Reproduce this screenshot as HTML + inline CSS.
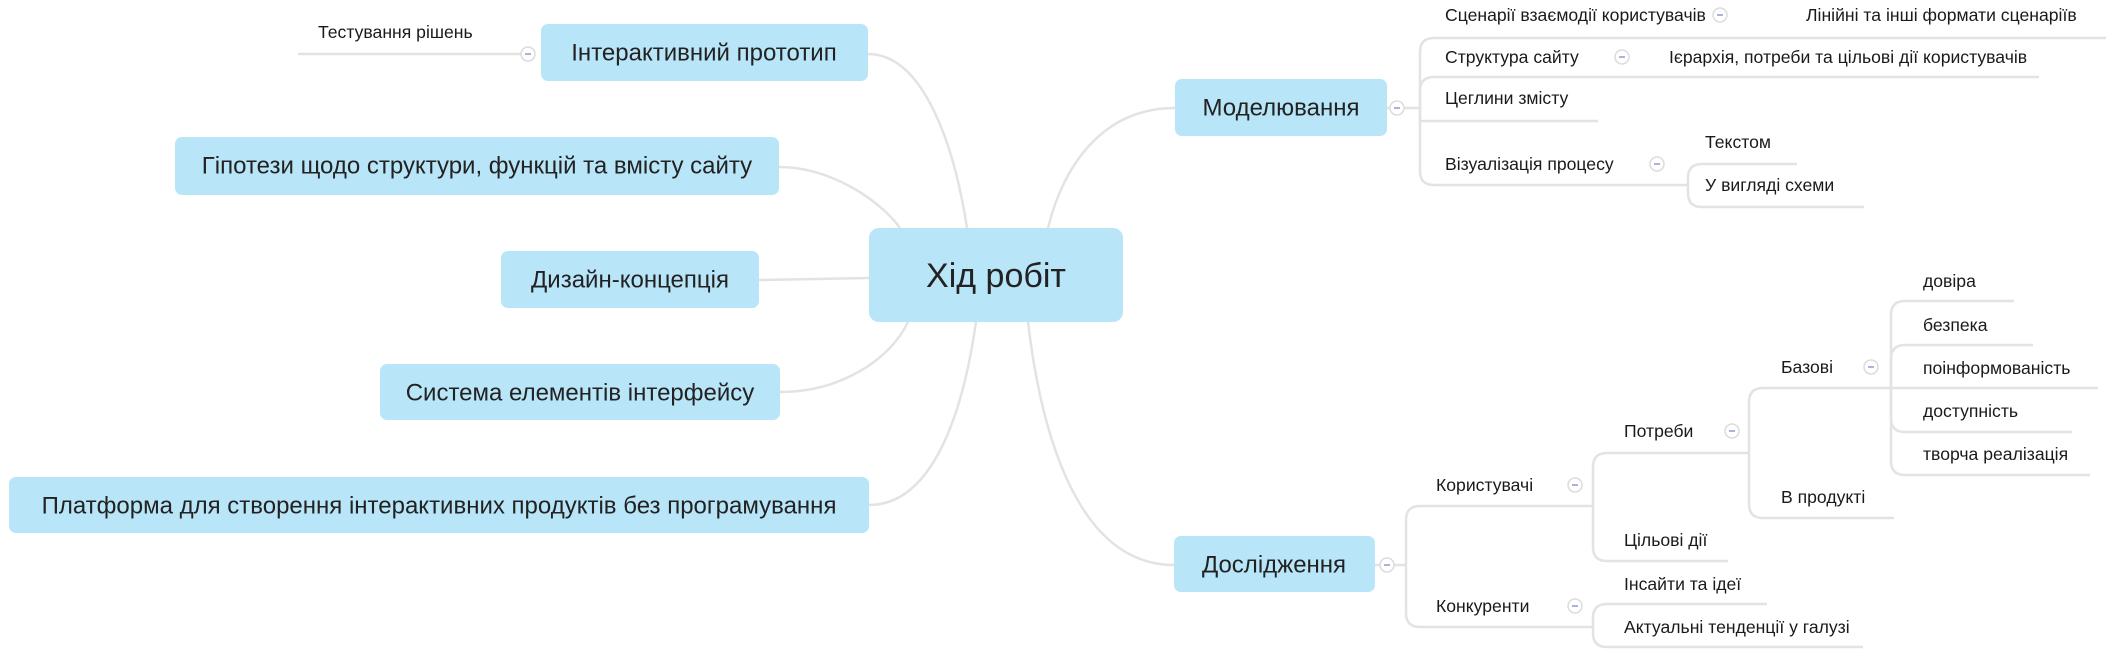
<!DOCTYPE html>
<html><head><meta charset="utf-8"><style>
html,body{margin:0;padding:0;background:#fff;}
svg{display:block;}
text{font-family:"Liberation Sans","Noto Sans CJK SC",sans-serif;fill:#1a1a1a;}
.l{font-size:17.6px;dominant-baseline:central;}
.n{font-size:24px;dominant-baseline:central;text-anchor:middle;fill:#222;}
.c{fill:none;stroke:#e3e3e3;stroke-width:2.5;}
.b{fill:#b8e5f8;}
.o circle{fill:#fff;stroke:#dcdcdc;stroke-width:1.5;}
.o line{stroke:#8a9bd0;stroke-width:1.5;}
</style></head><body>
<svg width="2106" height="660" viewBox="0 0 2106 660">
<path class="c" d="M868,54 C925,54 955,150 967,228"/>
<path class="c" d="M779,167 C830,167 880,200 900,228"/>
<path class="c" d="M759,280 L869,278"/>
<path class="c" d="M780,392 C840,392 890,360 908,322"/>
<path class="c" d="M869,505 C930,505 962,420 976,322"/>
<path class="c" d="M1175,108 C1100,108 1062,170 1048,228"/>
<path class="c" d="M1174,565 C1080,565 1042,440 1028,322"/>

<path class="c" d="M298,54 L521,54"/>
<text class="l" x="318" y="32">Тестування рішень</text>

<path class="c" d="M1387,108 L1420,108"/>
<path class="c" d="M1420,108 L1420,52 Q1420,38 1434,38 L2106,38"/>
<path class="c" d="M1420,108 L1420,91 Q1420,77 1434,77 L2039,77"/>
<path class="c" d="M1420,108 L1420,121 Q1420,121 1430,121 L1598,121"/>
<path class="c" d="M1420,108 L1420,171 Q1420,185 1434,185 L1672,185"/>
<path class="c" d="M1672,185 L1688,185"/>
<path class="c" d="M1688,185 L1688,178 Q1688,164 1702,164 L1797,164"/>
<path class="c" d="M1688,185 L1688,193 Q1688,207 1702,207 L1864,207"/>
<text class="l" x="1445" y="15">Сценарії взаємодії користувачів</text>
<text class="l" x="1806" y="15">Лінійні та інші формати сценаріїв</text>
<text class="l" x="1445" y="57">Структура сайту</text>
<text class="l" x="1669" y="57">Ієрархія, потреби та цільові дії користувачів</text>
<text class="l" x="1445" y="98">Цеглини змісту</text>
<text class="l" x="1445" y="164">Візуалізація процесу</text>
<text class="l" x="1705" y="142">Текстом</text>
<text class="l" x="1705" y="185">У вигляді схеми</text>

<path class="c" d="M1375,565 L1406,565"/>
<path class="c" d="M1406,565 L1406,520 Q1406,506 1420,506 L1575,506 L1593,506"/>
<path class="c" d="M1406,565 L1406,613 Q1406,627 1420,627 L1593,627"/>
<path class="c" d="M1593,506 L1593,467 Q1593,453 1607,453 L1749,453"/>
<path class="c" d="M1593,506 L1593,547 Q1593,561 1607,561 L1728,561"/>
<path class="c" d="M1749,453 L1749,402 Q1749,388 1763,388 L1891,388"/>
<path class="c" d="M1749,453 L1749,504 Q1749,518 1763,518 L1894,518"/>
<path class="c" d="M1891,388 L1891,315 Q1891,301 1905,301 L2014,301"/>
<path class="c" d="M1891,388 L1891,359 Q1891,345 1905,345 L2033,345"/>
<path class="c" d="M1891,388 L2098,388"/>
<path class="c" d="M1891,388 L1891,418 Q1891,432 1905,432 L2072,432"/>
<path class="c" d="M1891,388 L1891,461 Q1891,475 1905,475 L2090,475"/>
<path class="c" d="M1593,627 L1593,618 Q1593,604 1607,604 L1767,604"/>
<path class="c" d="M1593,627 L1593,633 Q1593,647 1607,647 L1863,647"/>
<text class="l" x="1436" y="485">Користувачі</text>
<text class="l" x="1436" y="606">Конкуренти</text>
<text class="l" x="1624" y="431">Потреби</text>
<text class="l" x="1624" y="540">Цільові дії</text>
<text class="l" x="1781" y="367">Базові</text>
<text class="l" x="1781" y="497">В продукті</text>
<text class="l" x="1923" y="281">довіра</text>
<text class="l" x="1923" y="325">безпека</text>
<text class="l" x="1923" y="368">поінформованість</text>
<text class="l" x="1923" y="411">доступність</text>
<text class="l" x="1923" y="454">творча реалізація</text>
<text class="l" x="1624" y="584">Інсайти та ідеї</text>
<text class="l" x="1624" y="627">Актуальні тенденції у галузі</text>

<rect class="b" x="869" y="228" width="254" height="94" rx="10"/>
<text class="n" x="996" y="276" style="font-size:34px">Хід робіт</text>
<rect class="b" x="541" y="24" width="327" height="57" rx="7"/>
<text class="n" x="704" y="53">Інтерактивний прототип</text>
<rect class="b" x="175" y="137" width="604" height="58" rx="7"/>
<text class="n" x="477" y="166">Гіпотези щодо структури, функцій та вмісту сайту</text>
<rect class="b" x="501" y="251" width="258" height="57" rx="7"/>
<text class="n" x="630" y="280">Дизайн-концепція</text>
<rect class="b" x="380" y="364" width="400" height="56" rx="7"/>
<text class="n" x="580" y="393">Система елементів інтерфейсу</text>
<rect class="b" x="9" y="477" width="860" height="56" rx="7"/>
<text class="n" x="439" y="506">Платформа для створення інтерактивних продуктів без програмування</text>
<rect class="b" x="1175" y="79" width="212" height="57" rx="7"/>
<text class="n" x="1281" y="108">Моделювання</text>
<rect class="b" x="1174" y="536" width="201" height="56" rx="7"/>
<text class="n" x="1274" y="565">Дослідження</text>

<g class="o">
<g transform="translate(528,54)"><circle r="7"/><line x1="-3" x2="3"/></g>
<g transform="translate(1397,108)"><circle r="7"/><line x1="-3" x2="3"/></g>
<g transform="translate(1720,15)"><circle r="7"/><line x1="-3" x2="3"/></g>
<g transform="translate(1622,57)"><circle r="7"/><line x1="-3" x2="3"/></g>
<g transform="translate(1657,164)"><circle r="7"/><line x1="-3" x2="3"/></g>
<g transform="translate(1387,565)"><circle r="7"/><line x1="-3" x2="3"/></g>
<g transform="translate(1575,485)"><circle r="7"/><line x1="-3" x2="3"/></g>
<g transform="translate(1575,606)"><circle r="7"/><line x1="-3" x2="3"/></g>
<g transform="translate(1732,431)"><circle r="7"/><line x1="-3" x2="3"/></g>
<g transform="translate(1871,367)"><circle r="7"/><line x1="-3" x2="3"/></g>
</g>
</svg>
</body></html>
